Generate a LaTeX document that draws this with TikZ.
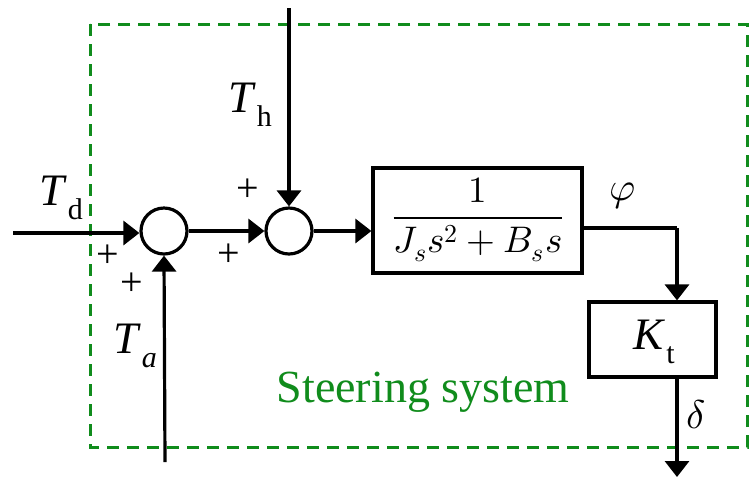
\documentclass[tikz,border=0pt]{standalone}
\usepackage{fontspec}
\setmainfont{Liberation Serif}
\usepackage{unicode-math}
\setmathfont{Latin Modern Math}
\usetikzlibrary{arrows.meta,calc}
\definecolor{boxgreen}{RGB}{16,140,28}
\newcommand{\tlab}[2]{\fontsize{22.5}{24}\selectfont\textit{#1}\kern0.5pt\raisebox{-0.3em}{\fontsize{15}{16}\selectfont #2}}
\tikzset{
  sig/.style={line width=1.6pt,-{Triangle[length=8pt,width=12pt]}},
  wire/.style={line width=1.6pt},
  sumnode/.style={circle,draw,line width=1.6pt,minimum size=23pt,inner sep=0pt},
  blocknode/.style={rectangle,draw,line width=1.6pt,inner sep=0pt},
  pluslab/.style={inner sep=0pt,font=\fontsize{20}{20}\selectfont},
  mathlab/.style={inner sep=0pt,font=\fontsize{20}{20}\selectfont},
  sysbox/.style={draw=boxgreen,line width=1.5pt,dash pattern=on 6pt off 4pt},
}
\begin{document}
\begin{tikzpicture}[x=0.5pt,y=-0.5pt]
\useasboundingbox (0,0) rectangle (750,479);
% system boundary
\draw[sysbox] (90,24) rectangle (747,447);
\node[text=boxgreen,font=\fontsize{23}{24}\selectfont,inner sep=0pt] (sys) at (423,392) {Steering system};

% nodes
\node[sumnode] (s1) at (164,231) {};
\node[sumnode] (s2) at (289,231) {};
\node[blocknode,minimum width=104.5pt,minimum height=52.5pt] (G) at (477.5,220.5) {};
\node[mathlab,font=\fontsize{18.5}{20}\selectfont] (Gtext) at (478,220) {$\dfrac{1}{J_s s^2+B_s s}$};
\node[blocknode,minimum width=63.5pt,minimum height=37.5pt] (K) at (652.5,339.5) {};
\node[inner sep=0pt] (Ktext) at (654,342) {\tlab{K}{t}};

% free ends
\coordinate (tdin) at (13,233);
\coordinate (tain) at (165,462);
\coordinate (thin) at (289,8);
\coordinate (dout) at (677,477);
\coordinate (corner) at (677,228);

% connectors
\draw[sig] (tdin) -- (s1.west |- tdin);
\draw[sig] (s1) -- (s2);
\draw[sig] (tain) -- (s1.south);
\draw[sig] (thin) -- (s2.north);
\draw[sig] (s2.east) -- (s2.east -| G.west);
\draw[wire] (G.east |- corner) -- (corner);
\draw[sig] (corner) -- (corner |- K.north);
\draw[sig] (corner |- K.south) -- (dout);

% labels
\node[inner sep=0pt] (tdlab) at (61,198) {\tlab{T}{d}};
\node[inner sep=0pt] (thlab) at (250,105) {\tlab{T}{h}};
\node[inner sep=0pt] (talab) at (135,346) {\fontsize{22.5}{24}\selectfont\textit{T}\kern0.5pt\raisebox{-0.3em}{\fontsize{15}{16}\selectfont\textit{a}}};
\node[mathlab] (phi) at (623,196) {$\varphi$};
\node[mathlab] (delta) at (696,414) {$\delta$};
\node[pluslab] (p1) at (108,256) {+};
\node[pluslab] (p2) at (132,284) {+};
\node[pluslab] (p3) at (229,255) {+};
\node[pluslab] (p4) at (248,190) {+};
\end{tikzpicture}
\end{document}
